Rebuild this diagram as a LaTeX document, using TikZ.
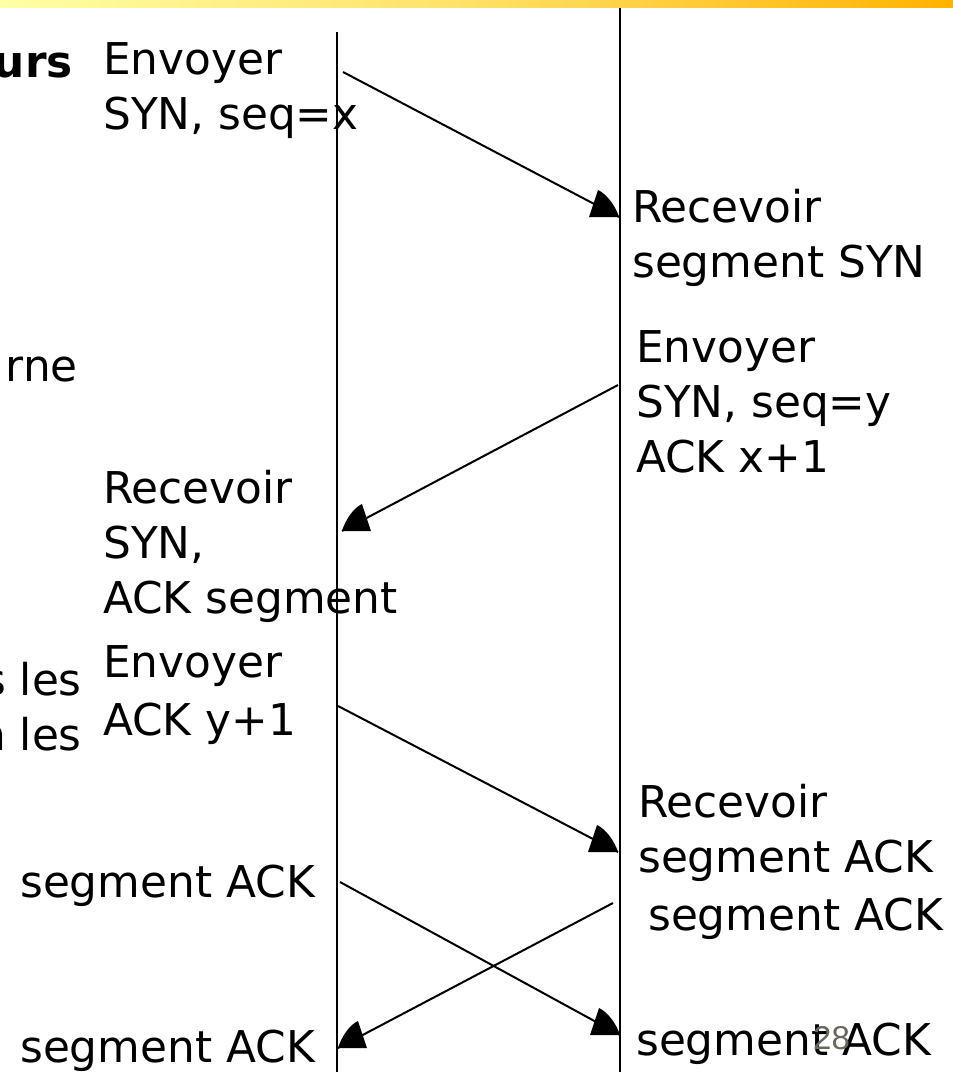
\documentclass[tikz,border=0pt]{standalone}
\usepackage{fontspec}
\setmainfont{DejaVu Sans}
\newfontfamily\pagefont{Liberation Sans}
\definecolor{pagegray}{RGB}{105,102,92}
\begin{document}
\begin{tikzpicture}[x=1pt,y=-1pt,
  lbl/.style={inner sep=0pt, anchor=base west, align=left, font=\fontsize{43.8}{55}\selectfont},
  rlbl/.style={lbl, anchor=base east, align=right},
  msg/.style={line width=2pt},
  life/.style={line width=2.1pt}]
\useasboundingbox (0,0) rectangle (953,1072);
% top stripe
\shade[left color=yellow!35, right color=orange!60!yellow, middle color=yellow!60!orange!60] (0,0) rectangle (953,7);
% lifelines
\coordinate (Ltop) at (337,32);
\coordinate (Lbot) at (337,1072);
\coordinate (Rtop) at (620,8);
\coordinate (Rbot) at (620,1072);
\draw[life] (Ltop) -- (Lbot);
\draw[life] (Rtop) -- (Rbot);
% message coordinates
\coordinate (m1s) at (343,72);   \coordinate (m1e) at (619,217);
\coordinate (m2s) at (618,385);  \coordinate (m2e) at (342,531);
\coordinate (m3s) at (338,706);  \coordinate (m3e) at (618,852);
\coordinate (m4s) at (340,882);  \coordinate (m4e) at (620,1035);
\coordinate (m5s) at (613,903);  \coordinate (m5e) at (338,1048);
\draw[msg] (m1s) -- (m1e);
\draw[msg] (m2s) -- (m2e);
\draw[msg] (m3s) -- (m3e);
\draw[msg] (m4s) -- (m4e);
\draw[msg] (m5s) -- (m5e);
% arrowheads (fixed orientation)
\foreach \t in {m1e,m3e,m4e}{
  \fill (\t) -- ++(-30,0) -- ++(9,-27) .. controls ++(9,4) and ++(-3,-10) .. (\t) -- cycle;
}
\foreach \t in {m2e,m5e}{
  \fill (\t) -- ++(29,0) -- ++(-9,-27) .. controls ++(-9,4) and ++(3,-10) .. (\t) -- cycle;
}
% labels (anchor = baseline of the last line)
\node[rlbl, font=\fontsize{43.8}{55}\selectfont\bfseries] (urs) at (73,77) {urs};
\node[rlbl] (rne) at (78,381) {rne};
\node[rlbl] (les) at (82,750) {s les\\n les};
\node[lbl] (t1) at (103,129) {Envoyer\\SYN, seq=x};
\node[lbl] (t2) at (632,277) {Recevoir\\segment SYN};
\node[lbl] (t3) at (636,472) {Envoyer\\SYN, seq=y\\ACK x+1};
\node[lbl] (t4) at (103,613) {Recevoir\\SYN,\\ACK segment};
\node[lbl, font=\fontsize{43.8}{58}\selectfont] (t5) at (103,735) {Envoyer\\ACK y+1};
\node[lbl] (t6) at (638,872) {Recevoir\\segment ACK};
\node[lbl] (t7) at (20,897) {segment ACK};
\node[lbl] (t8) at (648,930) {segment ACK};
\node[lbl] (t9) at (20,1062) {segment ACK};
\node[lbl] (t10) at (636,1055) {segment ACK};
\node[inner sep=0pt, anchor=base west, text=pagegray, font=\pagefont\fontsize{33}{36}\selectfont] (pg) at (813,1049) {28};
\end{tikzpicture}
\end{document}
